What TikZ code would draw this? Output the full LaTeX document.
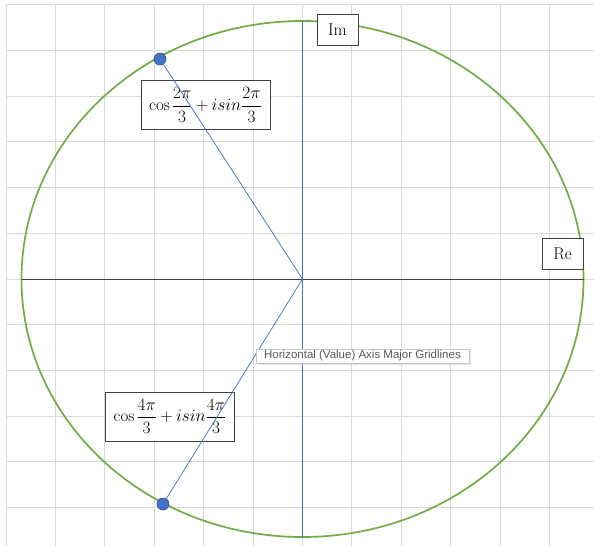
\documentclass[tikz,border=0pt]{standalone}
\usepackage{amsmath}
\usepackage{fontspec}
\newfontfamily\dicafont{Liberation Sans}
\usepackage{tikz}
\usetikzlibrary{shadows}

\definecolor{gradecinza}{HTML}{D9D9D9}
\definecolor{circverde}{HTML}{70AD47}
\definecolor{eixoazul}{HTML}{4472C4}
\definecolor{eixoescuro}{HTML}{404040}
\definecolor{dicacinza}{HTML}{595959}

% raiz cubica da unidade
\newcommand{\raizform}[1]{$\thinmuskip=2mu\relax\medmuskip=3.5mu\relax\cos\dfrac{#1\pi}{3}+isin\dfrac{#1\pi}{3}$}

\begin{document}
\begin{tikzpicture}[
        x=1pt, y=-1pt, % coordenadas em pixels, y para baixo
        grade/.style={draw=gradecinza, line width=1pt},
        caixa/.style={draw=eixoescuro, fill=white, line width=0.8pt, inner sep=0pt, align=center},
        formula/.style={caixa, minimum width=129pt, minimum height=49pt, font=\fontsize{17}{20}\selectfont},
        eixo/.style={caixa, minimum width=41pt, minimum height=31pt, font=\fontsize{17}{20}\selectfont},
        ponto/.style={circle, fill=eixoazul, draw=eixoazul!70!black, line width=0.6pt, minimum size=12pt, inner sep=0pt},
        raio/.style={draw=eixoazul, line width=0.75pt},
        dica/.style={draw=gray!45, fill=white, text=dicacinza, inner sep=0pt, minimum width=213pt, minimum height=14pt,
            font=\dicafont\fontsize{11.5}{13.5}\selectfont, drop shadow={shadow xshift=1.5pt, shadow yshift=-1.5pt, fill=black!20}}
    ]
        \useasboundingbox (0,0) rectangle (594,546);

        % Grade
        \foreach \i in {0,...,11} \draw[grade] ({6+49.4*\i},4.8) -- ({6+49.4*\i},546);
        \foreach \j in {0,...,11} \draw[grade] (6,{4.8+45.7*\j}) -- (594,{4.8+45.7*\j});

        % Circulo unitario
        \coordinate (O) at (302.5,279);
        \draw[circverde, line width=1.7pt] (O) ellipse [x radius=281, y radius=258];

        % Eixos
        \coordinate (reEsq) at (22,279);
        \coordinate (reDir) at (584,279);
        \coordinate (imTopo) at (302.5,22);
        \coordinate (imBase) at (302.5,538);
        \draw[eixoescuro, line width=1pt] (reEsq) -- (reDir);
        \draw[eixoazul, line width=0.9pt] (imTopo) -- (imBase);

        % Caixas das formulas
        \node[formula] (raiz1) at (205.5,105) {\raizform{2}};
        \node[formula] (raiz2) at (170,416.5) {\raizform{4}};

        % Raizes
        \node[ponto] (p1) at (160,59) {};
        \node[ponto] (p2) at (163,504) {};
        \draw[raio] (O) -- (p1);
        \draw[raio] (O) -- (p2);

        % Rotulos dos eixos
        \node[eixo] (im) at (337.5,30) {Im};
        \node[eixo] (re) at (562.5,253.5) {Re};

        % Dica
        \node[dica] (dica) at (362.5,356) {Horizontal (Value) Axis Major Gridlines};

    \end{tikzpicture}
\end{document}
